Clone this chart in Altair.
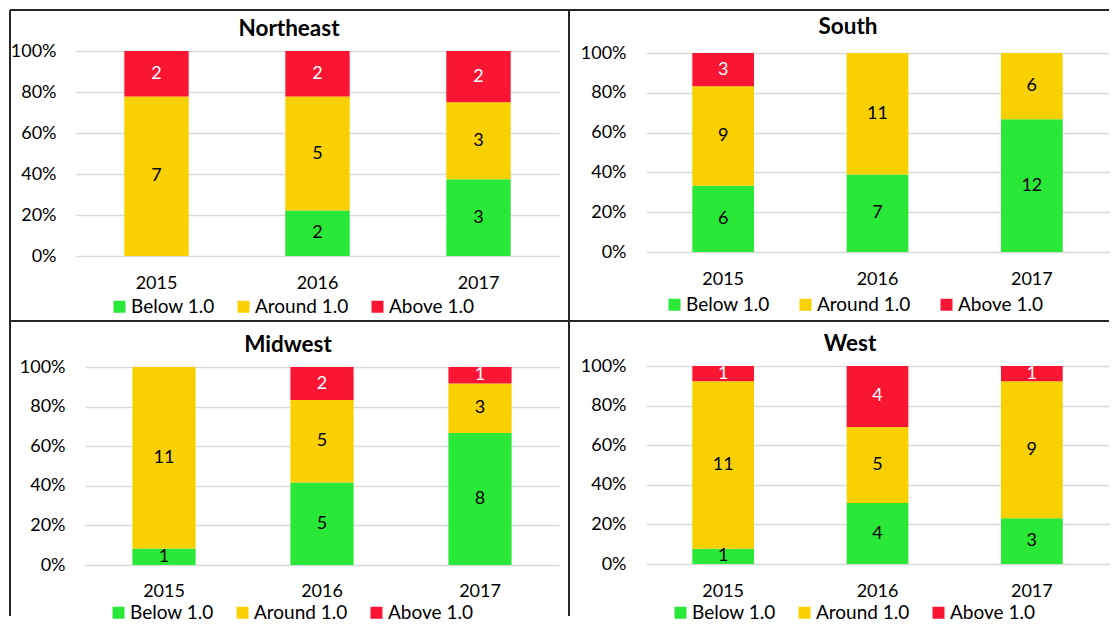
import altair as alt
import pandas as pd

# ---------------- data ----------------
years = ["2015", "2016", "2017"]
categories = ["Below 1.0", "Around 1.0", "Above 1.0"]
colors = ["#2AE838", "#F9D000", "#FA1633"]

northeast_below = [0, 2, 3]
northeast_around = [7, 5, 3]
northeast_above = [2, 2, 2]

south_below = [6, 7, 12]
south_around = [9, 11, 6]
south_above = [3, 0, 0]

midwest_below = [1, 5, 8]
midwest_around = [11, 5, 3]
midwest_above = [0, 2, 1]

west_below = [1, 4, 3]
west_around = [11, 5, 9]
west_above = [1, 4, 1]

FONT = "Lato"
LINE = "#262626"
FS = 18


def make_df(b, a, ab):
    rows = []
    for i, y in enumerate(years):
        for k, (cat, vals) in enumerate(zip(categories, [b, a, ab])):
            if vals[i] > 0:
                rows.append({"year": y, "cat": cat, "order": k, "count": vals[i]})
    return pd.DataFrame(rows)


def panel(title, df, L):
    W, H = L["W"], L["H"]
    x0, x1, yb, yt = L["x0"], L["x1"], L["yb"], L["yt"]
    base = alt.Chart(df).transform_stack(
        stack="count",
        groupby=["year"],
        offset="normalize",
        sort=[alt.SortField(field="order", order="ascending")],
        as_=["y0", "y1"],
    ).transform_calculate(mid="(datum.y0 + datum.y1) / 2")

    xenc = alt.X(
        "year:N",
        scale=alt.Scale(domain=years, range=[x0, x1], paddingInner=0.6, paddingOuter=0.3),
        axis=alt.Axis(
            title=None, labelAngle=0, ticks=False, tickSize=0, domain=False, grid=False,
            labelFont=FONT, labelFontSize=FS, labelColor="black", labelPadding=L["xlp"],
            offset=yb - H,
        ),
    )
    yscale = alt.Scale(domain=[0, 1], range=[yb, yt], nice=False)
    bars = base.mark_bar().encode(
        x=xenc,
        y=alt.Y(
            "y0:Q",
            scale=yscale,
            axis=alt.Axis(
                title=None, values=[0, 0.2, 0.4, 0.6, 0.8, 1.0], format=".0%",
                ticks=False, tickSize=0, domain=False, grid=True,
                gridColor="#D9D9D9", gridWidth=1.5,
                labelFont=FONT, labelFontSize=FS, labelColor="black", labelPadding=20,
                offset=-x0,
            ),
        ),
        y2="y1:Q",
        color=alt.Color(
            "cat:N",
            scale=alt.Scale(domain=categories, range=colors),
            legend=alt.Legend(
                orient="none", legendX=L["lgx"], legendY=L["lgy"], direction="horizontal",
                title=None, symbolType="square", symbolSize=144, symbolStrokeWidth=0,
                symbolOpacity=1, labelFont=FONT, labelFontSize=19, labelColor="black",
                labelOffset=2, columnPadding=L["cp"], padding=0,
            ),
        ),
    )
    labels = base.mark_text(font=FONT, fontSize=FS, baseline="middle").encode(
        x=alt.X("year:N", title=None),
        y=alt.Y("mid:Q", title=None),
        text="count:Q",
        color=alt.condition(alt.datum.cat == "Above 1.0", alt.value("white"), alt.value("black")),
    )
    ttl = alt.Chart(pd.DataFrame({"t": [title]})).mark_text(
        font=FONT, fontSize=22.5, fontWeight="bold", color="black", baseline="middle"
    ).encode(x=alt.value(L["tx"]), y=alt.value(L["ty"]), text="t:N")
    one = pd.DataFrame({"z": [0]})
    vline = alt.Chart(one).mark_rule(color=LINE, strokeWidth=2).encode(
        x=alt.value(0), y=alt.value(0), y2=alt.value(H)
    )
    hline = alt.Chart(one).mark_rule(color=LINE, strokeWidth=2).encode(
        y=alt.value(0), x=alt.value(0), x2=alt.value(W)
    )
    return alt.layer(bars, labels, ttl, vline, hline).properties(width=W, height=H)


layouts = {
    "Northeast": dict(W=559, H=311, x0=66, x1=549, yb=246, yt=41, lgx=100, lgy=287, cp=19,
                      tx=279, ty=19, xlp=18),
    "South": dict(W=540, H=311, x0=77, x1=540, yb=242, yt=43, lgx=96, lgy=285, cp=26,
                  tx=279, ty=17, xlp=18),
    "Midwest": dict(W=559, H=295, x0=75, x1=549, yb=244, yt=46, lgx=99, lgy=282, cp=19,
                    tx=278, ty=24, xlp=17),
    "West": dict(W=540, H=295, x0=77, x1=540, yb=243, yt=45, lgx=102, lgy=282, cp=19,
                 tx=281, ty=23, xlp=18),
}

ne = panel("Northeast", make_df(northeast_below, northeast_around, northeast_above), layouts["Northeast"])
so = panel("South", make_df(south_below, south_around, south_above), layouts["South"])
mw = panel("Midwest", make_df(midwest_below, midwest_around, midwest_above), layouts["Midwest"])
we = panel("West", make_df(west_below, west_around, west_above), layouts["West"])

chart = alt.concat(
    ne, so, mw, we, columns=2, spacing=0, bounds="flush", align="each",
    padding={"left": 0, "top": 0, "right": 0, "bottom": 0},
).resolve_scale(color="independent").resolve_legend(color="independent").properties(
    background="white"
).configure_view(stroke="transparent")

chart.save("out.html", embed_options={"renderer": "svg", "actions": False})
